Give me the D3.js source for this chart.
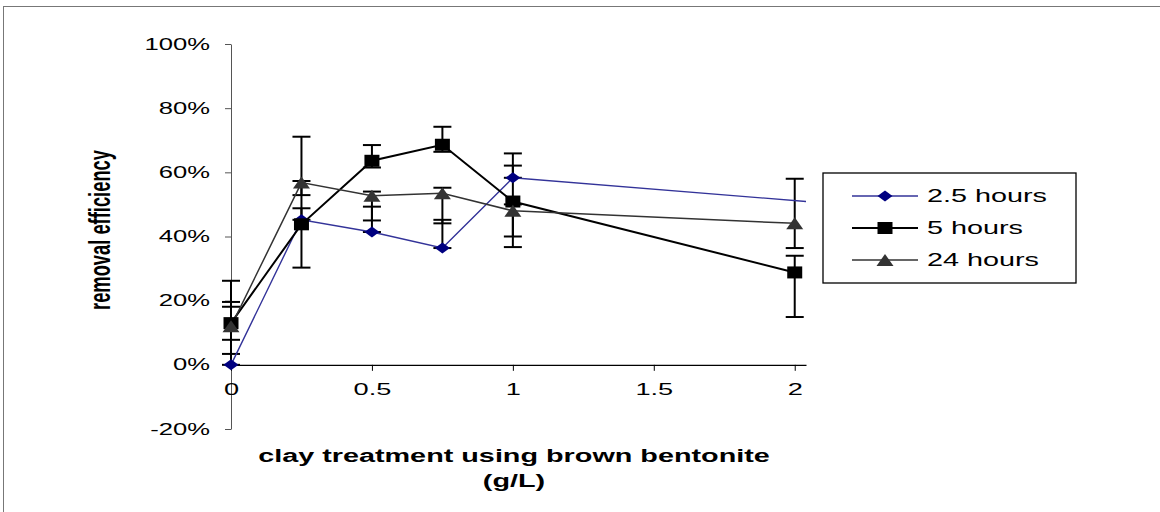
<!DOCTYPE html>
<html>
<head>
<meta charset="utf-8">
<script src="https://cdn.jsdelivr.net/npm/d3@7"></script>
<style>
  body { margin: 0; background: #fff; }
  svg { display: block; font-family: Arial, "Liberation Sans", sans-serif; }
</style>
</head>
<body>
<svg id="chart" width="1160" height="512"></svg>
<script>
const svg = d3.select('#chart')

// data (percent)
const doses = [0, 0.25, 0.5, 0.75, 1, 2]
const dosesBlue = [0, 0.25, 0.5, 0.75, 1, 3]   // last point lies past the axis end
const series = ['2.5 hours', '5 hours', '24 hours']
const hours25 = [0, 45.2, 41.4, 36.4, 58.3, 44.1]
const hours5 = [13, 43.8, 63.6, 68.6, 50.9, 28.8]
const hours24 = [12, 56.8, 52.7, 53.5, 48, 44.1]
// error bar ends (low, high)
const err25Lo = [0, 45.2, 41.4, 36.4, 58.3, null]
const err25Hi = [18.1, 48.8, 49.3, 45.2, 62.1, null]
const err5Lo = [7.8, 30.3, 61.5, 66.4, 36.7, 14.9]
const err5Hi = [26.2, 57.3, 68.5, 74.2, 65.9, 34.0]
const err24Lo = [3.4, 52.9, 45.0, 44.1, 40.0, 36.4]
const err24Hi = [19.6, 71.1, 54.0, 55.2, 50.0, 58.0]
const yTicks = [-20, 0, 20, 40, 60, 80, 100]
const xTicks = [0, 0.5, 1, 1.5, 2]

const plotLeft = 231, plotRight = 806, plotTop = 44, plotBottom = 429
const stretch = 1.6   // the original picture is stretched sideways

const x = d3.scaleLinear().domain([0, 2.04]).range([plotLeft, plotRight])
const y = d3.scaleLinear().domain([-20, 100]).range([plotBottom, plotTop])

// outer frame
svg.append('rect')
  .attr('x', 3.5).attr('y', 6.5)
  .attr('width', 1200).attr('height', 600)
  .attr('fill', 'none').attr('stroke', '#777').attr('stroke-width', 1)

// clip only on the right, where the 2.5 hours line runs off the axis
svg.append('clipPath').attr('id', 'plot')
  .append('rect').attr('x', plotLeft - 20).attr('y', plotTop - 10)
  .attr('width', plotRight - plotLeft + 20).attr('height', plotBottom - plotTop + 20)

// y axis
const yAxis = svg.append('g')
  .attr('transform', `translate(${plotLeft},0)`)
  .call(d3.axisLeft(y).tickValues(yTicks).tickSize(6).tickSizeOuter(0).tickFormat(d => d + '%'))
yAxis.select('.domain').attr('stroke', '#555')
yAxis.selectAll('.tick line').attr('stroke', '#555')
yAxis.selectAll('.tick text')
  .attr('x', null)
  .attr('transform', `translate(-21,0) scale(${stretch},1)`)
  .attr('font-size', 16).attr('fill', '#000')
  .attr('font-family', 'Arial, "Liberation Sans", sans-serif')

// x axis on the 0% line
const xAxis = svg.append('g')
  .attr('transform', `translate(0,${y(0)})`)
  .call(d3.axisBottom(x).tickValues(xTicks).tickSize(6).tickSizeOuter(0).tickPadding(12).tickFormat(d => String(d)))
xAxis.select('.domain').attr('stroke', '#000').attr('stroke-width', 1.3)
xAxis.selectAll('.tick line').attr('stroke', '#000')
xAxis.selectAll('.tick text')
  .attr('transform', `scale(${stretch},1)`)
  .attr('font-size', 17).attr('fill', '#000')
  .attr('font-family', 'Arial, "Liberation Sans", sans-serif')

// axis titles
svg.append('text')
  .attr('transform', `translate(514,462) scale(${stretch},1)`)
  .attr('text-anchor', 'middle').attr('font-size', 18).attr('font-weight', 'bold')
  .text('clay treatment using brown bentonite')
svg.append('text')
  .attr('transform', `translate(514,487) scale(${stretch},1)`)
  .attr('text-anchor', 'middle').attr('font-size', 18).attr('font-weight', 'bold')
  .text('(g/L)')
svg.append('text')
  .attr('transform', `translate(110,230) rotate(-90)`)
  .attr('text-anchor', 'middle').attr('font-size', 29).attr('font-weight', 'bold')
  .attr('textLength', 160).attr('lengthAdjust', 'spacingAndGlyphs')
  .text('removal efficiency')

// marker shapes (wide, like the stretched original)
const diamond = (w, h) => `M${-w/2},0L0,${-h/2}L${w/2},0L0,${h/2}Z`
const square = (w, h) => `M${-w/2},${-h/2}H${w/2}V${h/2}H${-w/2}Z`
const triangle = (w, h) => `M${-w/2},${h/2}L0,${-h/2}L${w/2},${h/2}Z`

const defs = [
  { name: series[0], xs: dosesBlue, ys: hours25, lo: err25Lo, hi: err25Hi, line: '#333399', lw: 1.4, fill: '#000080', shape: diamond(15, 11) },
  { name: series[1], xs: doses, ys: hours5, lo: err5Lo, hi: err5Hi, line: '#000', lw: 2, fill: '#000', shape: square(15, 12) },
  { name: series[2], xs: doses, ys: hours24, lo: err24Lo, hi: err24Hi, line: '#333', lw: 1.5, fill: '#333', shape: triangle(17, 12) }
]

const plot = svg.append('g').attr('clip-path', 'url(#plot)')

// error bars
defs.forEach(s => {
  const bars = s.xs.map((d, i) => ({ x: d, lo: s.lo[i], hi: s.hi[i] })).filter(d => d.lo !== null)
  const g = plot.append('g').attr('stroke', '#000').attr('stroke-width', 2)
  g.selectAll('line.v').data(bars).enter().append('line')
    .attr('x1', d => x(d.x)).attr('x2', d => x(d.x))
    .attr('y1', d => y(d.lo)).attr('y2', d => y(d.hi))
  g.selectAll('line.lo').data(bars).enter().append('line')
    .attr('x1', d => x(d.x) - 9).attr('x2', d => x(d.x) + 9)
    .attr('y1', d => y(d.lo)).attr('y2', d => y(d.lo))
  g.selectAll('line.hi').data(bars).enter().append('line')
    .attr('x1', d => x(d.x) - 9).attr('x2', d => x(d.x) + 9)
    .attr('y1', d => y(d.hi)).attr('y2', d => y(d.hi))
})

// lines
const lineGen = d3.line().x(d => x(d[0])).y(d => y(d[1]))
defs.forEach(s => {
  plot.append('path')
    .datum(s.xs.map((d, i) => [d, s.ys[i]]))
    .attr('d', lineGen)
    .attr('fill', 'none').attr('stroke', s.line).attr('stroke-width', s.lw)
})

// markers
defs.forEach(s => {
  plot.selectAll(null)
    .data(s.xs.map((d, i) => [d, s.ys[i]]))
    .enter().append('path')
    .attr('d', s.shape)
    .attr('transform', d => `translate(${x(d[0])},${y(d[1])})`)
    .attr('fill', s.fill)
})

// legend
const legend = svg.append('g').attr('transform', 'translate(823,173)')
legend.append('rect')
  .attr('width', 253).attr('height', 110)
  .attr('fill', '#fff').attr('stroke', '#000').attr('stroke-width', 1.3)
defs.forEach((s, i) => {
  const row = legend.append('g').attr('transform', `translate(0,${23 + i * 32})`)
  row.append('line').attr('x1', 29).attr('x2', 95)
    .attr('stroke', s.line).attr('stroke-width', s.lw)
  row.append('path').attr('d', s.shape).attr('transform', 'translate(62,0)').attr('fill', s.fill)
  row.append('text').attr('transform', `translate(104,6) scale(${stretch},1)`)
    .attr('font-size', 18).text(s.name)
})
</script>
</body>
</html>
